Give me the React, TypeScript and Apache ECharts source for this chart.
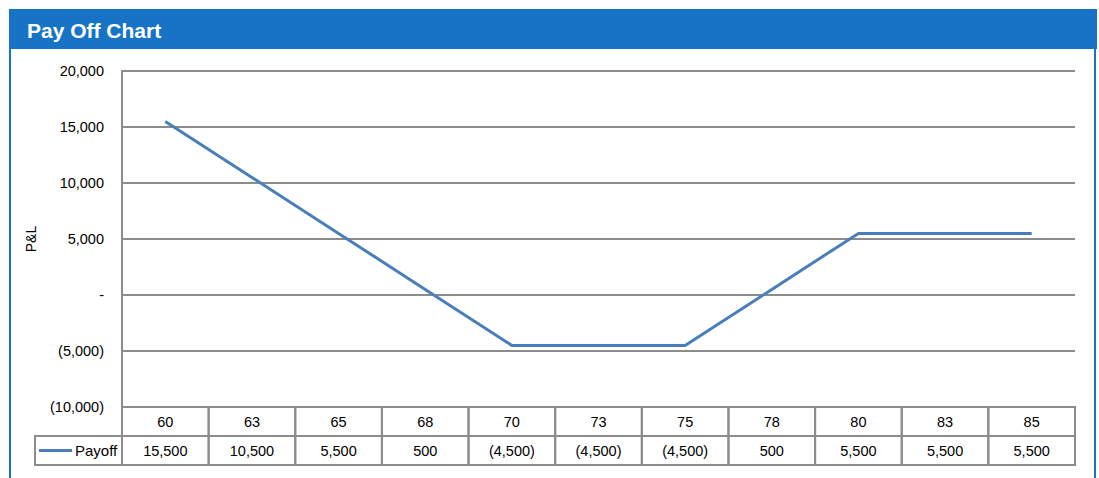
import React, { useEffect, useRef } from "react";
import * as echarts from "echarts";

const categories = ["60", "63", "65", "68", "70", "73", "75", "78", "80", "83", "85"];
const payoff = [15500, 10500, 5500, 500, -4500, -4500, -4500, 500, 5500, 5500, 5500];
const seriesName = "Payoff";
const title = "Pay Off Chart";
const yAxisName = "P&L";
const yMin = -10000;
const yMax = 20000;
const yStep = 5000;

const FONT = "Arial, 'Liberation Sans', sans-serif";
const GRID_COLOR = "#8c8c8c";
const LINE_COLOR = "#4a7ebb";
const HEADER_BLUE = "#1673c6";

function fmt(v: number): string {
  if (v === 0) return "-";
  const s = Math.abs(v).toLocaleString("en-US");
  return v < 0 ? "(" + s + ")" : s;
}

export default function App() {
  const ref = useRef<HTMLDivElement>(null);
  useEffect(() => {
    if (!ref.current) return;
    const chart = echarts.init(ref.current, null, { renderer: "svg" });
    const rowH = 29;
    chart.setOption({
      animation: false,
      backgroundColor: "#ffffff",
      textStyle: { fontFamily: FONT },
      grid: { left: 122, right: 24, top: 71, bottom: 71, containLabel: false },
      xAxis: {
        type: "category",
        data: categories,
        boundaryGap: true,
        axisLine: { show: false },
        axisTick: { show: false },
        axisLabel: { show: false },
        splitLine: { show: false },
      },
      yAxis: {
        type: "value",
        min: yMin,
        max: yMax,
        interval: yStep,
        name: yAxisName,
        nameLocation: "middle",
        nameGap: 84,
        nameRotate: 90,
        nameTextStyle: { fontSize: 14, color: "#000", fontFamily: FONT },
        axisLine: { show: true, lineStyle: { color: GRID_COLOR, width: 2 } },
        axisTick: { show: false },
        axisLabel: {
          formatter: (v: number) => fmt(v),
          fontSize: 14.5,
          color: "#000",
          margin: 18,
          fontFamily: FONT,
        },
        splitLine: { show: true, lineStyle: { color: GRID_COLOR, width: 2 } },
      },
      graphic: [
        {
          type: "rect",
          shape: { x: 9, y: 9, width: 1088, height: 40 },
          style: { fill: HEADER_BLUE },
        },
        {
          type: "text",
          x: 27,
          y: 30,
          style: {
            text: title,
            fill: "#fff",
            font: "bold 21px " + FONT,
            textVerticalAlign: "middle",
          },
        },
        {
          type: "rect",
          shape: { x: 9, y: 49, width: 2, height: 429 },
          style: { fill: HEADER_BLUE },
        },
        {
          type: "rect",
          shape: { x: 1094, y: 49, width: 2, height: 429 },
          style: { fill: HEADER_BLUE },
        },
        {
          type: "rect",
          shape: { x: 35, y: 407 + rowH, width: 87, height: rowH },
          style: { fill: "none", stroke: GRID_COLOR, lineWidth: 2 },
        },
        {
          type: "line",
          shape: { x1: 39, y1: 450.5, x2: 72, y2: 450.5 },
          style: { stroke: LINE_COLOR, lineWidth: 3 },
        },
        {
          type: "text",
          x: 75,
          y: 450,
          style: {
            text: seriesName,
            fill: "#000",
            font: "15px " + FONT,
            textVerticalAlign: "middle",
          },
        },
      ],
      series: [
        {
          name: seriesName,
          type: "line",
          data: payoff,
          symbol: "none",
          lineStyle: { color: LINE_COLOR, width: 3 },
          z: 5,
        },
        {
          type: "custom",
          clip: false,
          silent: true,
          data: payoff.map((v, i) => [i, v]),
          renderItem: (params: any, api: any) => {
            const idx = api.value(0);
            const val = api.value(1);
            const p = api.coord([idx, yMin]);
            const bw = api.size([1, 0])[0];
            const x0 = p[0] - bw / 2;
            const y0 = p[1];
            return {
              type: "group",
              children: [
                {
                  type: "rect",
                  shape: { x: x0, y: y0, width: bw, height: rowH },
                  style: { fill: "none", stroke: GRID_COLOR, lineWidth: 2 },
                },
                {
                  type: "rect",
                  shape: { x: x0, y: y0 + rowH, width: bw, height: rowH },
                  style: { fill: "none", stroke: GRID_COLOR, lineWidth: 2 },
                },
                {
                  type: "text",
                  x: p[0],
                  y: y0 + rowH / 2,
                  style: {
                    text: categories[idx],
                    fill: "#000",
                    font: "14.5px " + FONT,
                    textAlign: "center",
                    textVerticalAlign: "middle",
                  },
                },
                {
                  type: "text",
                  x: p[0],
                  y: y0 + rowH * 1.5,
                  style: {
                    text: fmt(val),
                    fill: "#000",
                    font: "14.5px " + FONT,
                    textAlign: "center",
                    textVerticalAlign: "middle",
                  },
                },
              ],
            };
          },
        },
      ],
    });
    return () => chart.dispose();
  }, []);
  return (
    <div
      ref={ref}
      style={{ position: "fixed", left: 0, top: 0, width: 1099, height: 478 }}
    />
  );
}
